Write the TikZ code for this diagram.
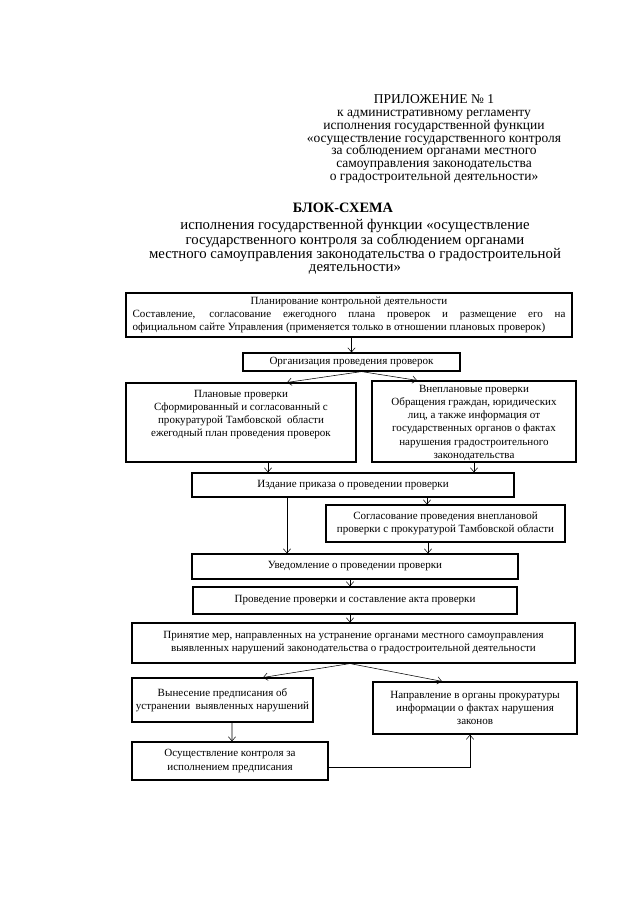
\documentclass[tikz,border=0pt]{standalone}
\usepackage{fontspec}
\setmainfont{Liberation Serif}
\usetikzlibrary{arrows.meta,calc}
\setlength{\parindent}{0pt}
\tikzset{
  blk/.style={draw,rectangle,line width=1.1pt,align=center,inner sep=1pt,font=\fontsize{10.3}{12.2}\selectfont},
  arr/.style={-{Straight Barb[length=1.4mm,width=2.4mm]},line width=0.5pt},
  hdr/.style={align=center,font=\fontsize{12.6}{12}\selectfont},
  sub/.style={align=center,font=\fontsize{13.8}{12.6}\selectfont},
  ttl/.style={font=\fontsize{13.4}{14}\selectfont\bfseries}
}
\begin{document}
\begin{tikzpicture}[x=0.0328cm,y=-0.0328cm]
  \useasboundingbox (0,0) rectangle (640,905);
  % Header
  \node[hdr] (appx) at (434,139) {ПРИЛОЖЕНИЕ № 1\\ к административному регламенту\\ исполнения государственной функции\\ «осуществление государственного контроля\\ за соблюдением органами местного\\ самоуправления законодательства\\ о градостроительной деятельности»};
  \node[ttl] (title) at (343,208) {БЛОК-СХЕМА};
  \node[sub] (subtitle) at (355,247) {исполнения государственной функции «осуществление\\ государственного контроля за соблюдением органами\\ местного самоуправления законодательства о градостроительной\\ деятельности»};

  % Planning
  \node[blk, text width=14.2cm, align=justify, inner xsep=0.215cm, minimum height=1.44cm] (plan) at (349,315) {{\centering Планирование контрольной деятельности\par}Составление, согласование ежегодного плана проверок и размещение его на\linebreak официальном сайте Управления (применяется только в отношении плановых проверок)};
  \node[blk, minimum width=7.12cm, minimum height=0.59cm] (org) at (351.5,362) {Организация проведения проверок};

  % Planned and unplanned checks
  \node[blk, minimum width=7.54cm, minimum height=2.59cm] (pln) at (241,422.5) {\parbox[c][2.45cm][t]{7.3cm}{\centering\vspace*{5pt}Плановые проверки\\ Сформированный и согласованный с\\ прокуратурой Тамбовской\ \ области\\ ежегодный план проведения проверок}};
  \node[blk, minimum width=6.69cm, minimum height=2.66cm] (vnp) at (474,421.5) {\parbox[c][2.5cm][t]{6.5cm}{\centering\vspace*{2pt}Внеплановые проверки\\ Обращения граждан, юридических\\ лиц, а также информация от\\ государственных органов о фактах\\ нарушения градостроительного\\ законодательства}};

  % Order, agreement, notice
  \node[blk, minimum width=10.56cm, minimum height=0.79cm] (izd) at (353,485) {Издание приказа о проведении проверки};
  \node[blk, minimum width=7.84cm, minimum height=1.21cm] (sgl) at (445.5,523.5) {Согласование проведения внеплановой\\ проверки с прокуратурой Тамбовской области};
  \node[blk, minimum width=10.69cm, minimum height=0.82cm] (uvd) at (355,566.5) {Уведомление о проведении проверки};
  \node[blk, minimum width=10.63cm, minimum height=0.89cm] (prv) at (355,600.5) {Проведение проверки и составление акта проверки};
  \node[blk, minimum width=14.53cm, minimum height=1.31cm] (prn) at (353.5,643) {Принятие мер, направленных на устранение органами местного самоуправления\\ выявленных нарушений законодательства о градостроительной деятельности};

  % Results
  \node[blk, minimum width=5.94cm, minimum height=1.44cm] (vyn) at (222.5,700) {Вынесение предписания об\\ устранении\ \ выявленных нарушений};
  \node[blk, minimum width=6.69cm, minimum height=1.71cm] (npr) at (475,708) {Направление в органы прокуратуры\\ информации о фактах нарушения\\ законов};
  \node[blk, minimum width=6.43cm, minimum height=1.25cm] (osu) at (230,761) {Осуществление контроля за\\ исполнением предписания};

  % Connections
  \draw[arr] (plan.south -| org.north) -- (org.north);
  \draw[arr] ($(org.south)+(10,0)$) -- ($(pln.north)+(46,0)$);
  \draw[arr] ($(org.south)+(10,0)$) -- ($(vnp.north)+(-57,0)$);
  \draw[arr] ($(pln.south)+(27,0)$) -- ($(izd.north)+(-85,0)$);
  \draw[arr] (vnp.south) -- (vnp.south |- izd.north);
  \draw[arr] ($(izd.south)+(-66,0)$) -- ($(uvd.north)+(-68,0)$);
  \draw[arr] ($(izd.south)+(74,0)$) -- ($(sgl.north)+(-18.5,0)$);
  \draw[arr] ($(sgl.south)+(-17.5,0)$) -- ($(uvd.north)+(73,0)$);
  \draw[arr] ($(uvd.south)+(-5,0)$) -- ($(prv.north)+(-5,0)$);
  \draw[arr] ($(prv.south)+(-5,0)$) -- ($(prn.north)+(-3.5,0)$);
  \draw[arr] ($(prn.south)+(-3.5,0)$) -- ($(vyn.north)+(40.5,0)$);
  \draw[arr] ($(prn.south)+(-3.5,0)$) -- ($(npr.north)+(-33,0)$);
  \draw[arr] ($(vyn.south)+(9.5,0)$) -- ($(osu.north)+(2,0)$);
  \draw[arr] ($(osu.east)+(0,6)$) -| ($(npr.south)+(-5,0)$);
\end{tikzpicture}
\end{document}
